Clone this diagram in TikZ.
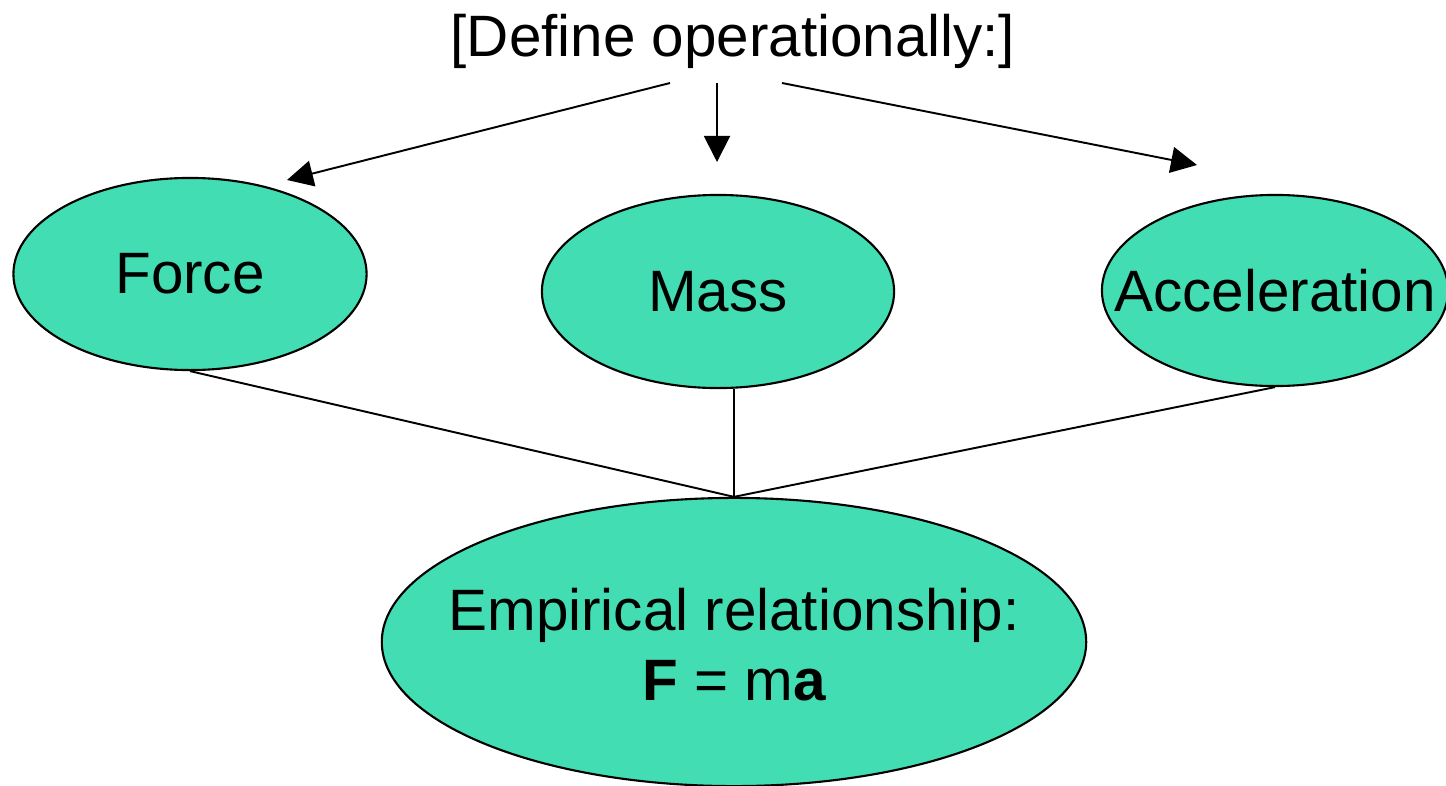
\documentclass[tikz,border=0pt]{standalone}
\usepackage{fontspec}
\setmainfont{Liberation Sans}
\usetikzlibrary{shapes.geometric,arrows.meta}
\definecolor{ellfill}{RGB}{66,221,178}
\begin{document}
\begin{tikzpicture}[x=0.01cm,y=-0.01cm,
  every node/.style={font=\fontsize{16.6}{20}\selectfont},
  ell/.style={ellipse,draw=black,line width=0.6pt,fill=ellfill,inner sep=0pt},
  link/.style={line width=0.55pt,draw=black},
  arr/.style={link,-{Triangle[length=0.26cm,width=0.26cm]}}]
\useasboundingbox (0,0) rectangle (1446,785);
\node[anchor=base] (T) at (733,57) {[Define operationally:]};
\node[ell,minimum width=3.53cm,minimum height=1.92cm] (F) at (190,274) {Force};
\node[ell,minimum width=3.52cm,minimum height=1.93cm] (M) at (718,291.5) {Mass};
\node[ell,inner xsep=-0.4cm,minimum width=3.46cm,minimum height=1.91cm] (A) at (1275,290.5) {Acceleration};
\node[ell,minimum width=7.04cm,minimum height=2.88cm] (E) at (734,642) {};
\node[anchor=base] (E1) at (734,630) {Empirical relationship:};
\node[anchor=base] (E2) at (734,700) {\textbf{F} = m\textbf{a}};
\coordinate (s1) at (670,83);
\coordinate (t1) at (287,180);
\coordinate (s2) at (717,83);
\coordinate (t2) at (717,162);
\coordinate (s3) at (782,83);
\coordinate (t3) at (1197,165);
\draw[arr] (s1) -- (t1);
\draw[arr] (s2) -- (t2);
\draw[arr] (s3) -- (t3);
\draw[link] (F.south) -- (E.north);
\draw[link] (A.south) -- (E.north);
\draw[link] (E.north |- M.south) -- (E.north);
\end{tikzpicture}
\end{document}
